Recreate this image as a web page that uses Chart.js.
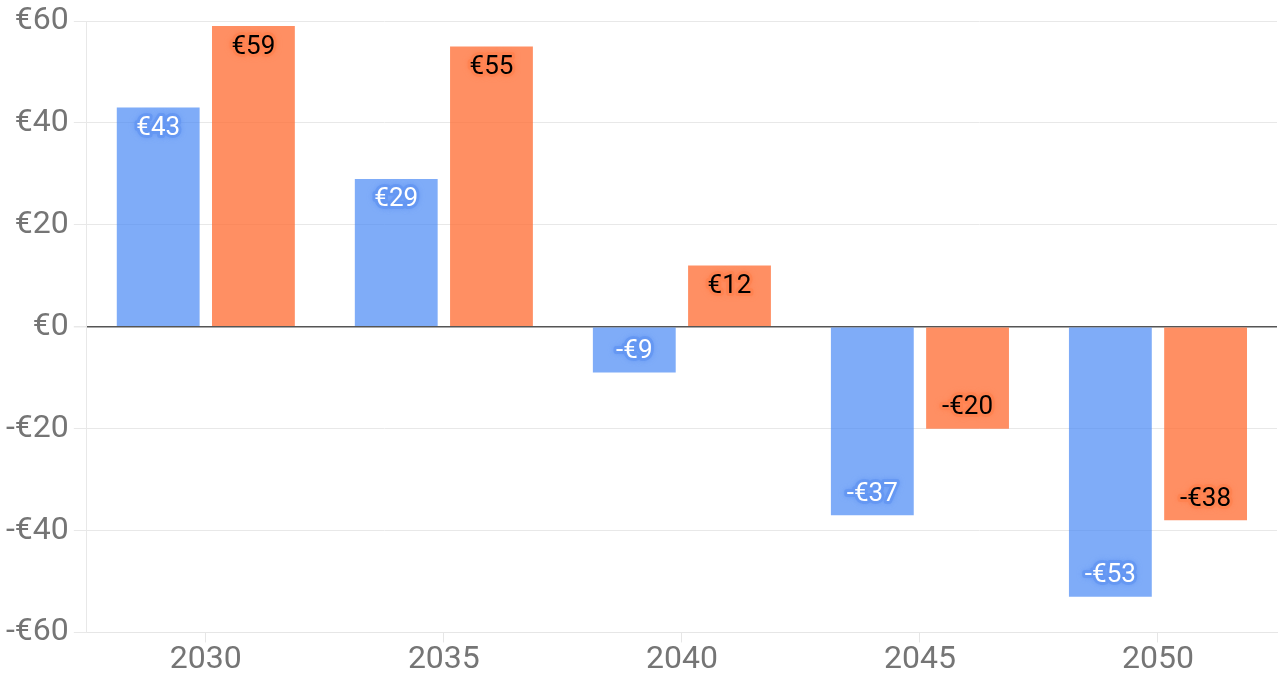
<!DOCTYPE html>
<html>
<head>
<meta charset="utf-8">
<script src="https://cdn.jsdelivr.net/npm/chart.js@4"></script>
<style>
  html, body { margin: 0; padding: 0; background: #fff; }
  #wrap { width: 1279px; height: 677px; }
</style>
</head>
<body>
<div id="wrap"><canvas id="myChart"></canvas></div>
<script>
const years = ['2030', '2035', '2040', '2045', '2050'];
const seriesA = [43, 29, -9, -37, -53];
const seriesB = [59, 55, 12, -20, -38];
const yTicks = [-60, -40, -20, 0, 20, 40, 60];

function euro(v) {
  return v < 0 ? '-€' + Math.abs(v) : '€' + v;
}

// value labels inside bar ends, with a soft halo in the bar colour
const valueLabels = {
  id: 'valueLabels',
  afterDatasetsDraw(chart) {
    const ctx = chart.ctx;
    chart.data.datasets.forEach((ds, i) => {
      const meta = chart.getDatasetMeta(i);
      meta.data.forEach((bar, j) => {
        const v = ds.data[j];
        const y = v >= 0 ? bar.y + 21 : bar.y - 21;
        const txt = euro(v);
        ctx.save();
        ctx.font = '26px Roboto';
        ctx.textAlign = 'center';
        ctx.textBaseline = 'middle';
        ctx.lineJoin = 'round';
        ctx.strokeStyle = ds.glow;
        ctx.shadowColor = ds.glow;
        ctx.shadowBlur = 5;
        ctx.lineWidth = 6;
        ctx.strokeText(txt, bar.x, y);
        ctx.shadowBlur = 0;
        ctx.fillStyle = ds.labelColor;
        ctx.fillText(txt, bar.x, y);
        ctx.restore();
      });
    });
  }
};

const ctx = document.getElementById('myChart');
new Chart(ctx, {
  type: 'bar',
  data: {
    labels: years,
    datasets: [{
      data: seriesA,
      backgroundColor: 'rgba(66, 133, 244, 0.68)',
      labelColor: '#ffffff',
      glow: 'rgba(100, 150, 242, 0.85)',
      barPercentage: 0.87,
      categoryPercentage: 0.8
    }, {
      data: seriesB,
      backgroundColor: 'rgba(255, 108, 50, 0.76)',
      labelColor: '#000000',
      glow: 'rgba(255, 130, 80, 0.85)',
      barPercentage: 0.87,
      categoryPercentage: 0.8
    }]
  },
  options: {
    responsive: true,
    maintainAspectRatio: false,
    animation: false,
    layout: { padding: { top: 1, right: 2, left: 1, bottom: 0 } },
    plugins: {
      legend: { display: false },
      tooltip: { enabled: false }
    },
    scales: {
      x: {
        grid: {
          offset: false,
          drawOnChartArea: false,
          drawTicks: true,
          tickLength: 10,
          color: '#e6e6e6'
        },
        border: { color: '#e6e6e6' },
        ticks: {
          color: '#757575',
          font: { family: 'Roboto', size: 32, lineHeight: 1.08 },
          padding: 0
        }
      },
      y: {
        min: -60,
        max: 60,
        afterBuildTicks: axis => {
          axis.ticks = yTicks.map(v => ({ value: v }));
        },
        grid: {
          color: c => (c.tick && c.tick.value === 0) ? '#555555' : '#e8e8e8',
          lineWidth: c => (c.tick && c.tick.value === 0) ? 1.5 : 1,
          tickColor: '#e8e8e8',
          tickLength: 13
        },
        border: { color: '#e8e8e8' },
        ticks: {
          color: '#757575',
          font: { family: 'Roboto', size: 32, lineHeight: 1 },
          padding: 5,
          callback: v => euro(v)
        }
      }
    }
  },
  plugins: [valueLabels]
});
</script>
</body>
</html>
